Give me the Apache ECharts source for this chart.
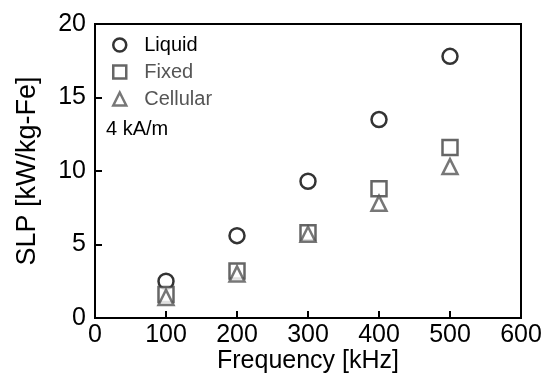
<!DOCTYPE html>
<html><head><meta charset="utf-8">
<script src="https://cdn.jsdelivr.net/npm/echarts@6/dist/echarts.min.js"></script>
<style>html,body{margin:0;padding:0;background:#fff}#c{width:544px;height:374px}</style>
</head><body><div id="c"></div>
<script>
const frequencies = [100, 200, 300, 400, 500];
const liquid = [2.5, 5.6, 9.3, 13.5, 17.8];
const fixed = [1.6, 3.2, 5.8, 8.8, 11.6];
const cellular = [1.4, 3.0, 5.7, 7.8, 10.3];
const xTicks = [0, 100, 200, 300, 400, 500, 600];
const yTicks = [0, 5, 10, 15, 20];

const font = 'Liberation Sans, Arial, sans-serif';
function pts(v){ return frequencies.map((f,i)=>[f, v[i]]); }
function ser(name, data, symbol, color, size){
  return {name, type:'scatter', data:pts(data), symbol, symbolSize:size,
    itemStyle:{color:'#fff', borderColor:color, borderWidth:2.5},
    emphasis:{disabled:true}, z: 3};
}
const chart = echarts.init(document.getElementById('c'), null, {renderer:'canvas'});
chart.setOption({
  animation:false,
  grid:{left:95, right:23, top:24, bottom:56, containLabel:false, outerBoundsMode:'none'},
  xAxis:{type:'value', min:xTicks[0], max:xTicks[xTicks.length-1], interval:100,
    name:'Frequency [kHz]', nameLocation:'middle', nameGap:31, nameMoveOverlap:false,
    nameTextStyle:{fontFamily:font, fontSize:25, color:'#000'},
    axisLine:{show:true, onZero:false, lineStyle:{color:'#000', width:2}},
    axisTick:{show:true, inside:true, length:7, lineStyle:{color:'#000', width:2}},
    axisLabel:{fontFamily:font, fontSize:25, color:'#000', margin:5},
    splitLine:{show:false}},
  yAxis:{type:'value', min:yTicks[0], max:yTicks[yTicks.length-1], interval:5,
    name:'SLP [kW/kg-Fe]', nameLocation:'middle', nameGap:54, nameRotate:90, nameMoveOverlap:false,
    nameTextStyle:{fontFamily:font, fontSize:27, color:'#000'},
    axisLine:{show:true, onZero:false, lineStyle:{color:'#000', width:2}},
    axisTick:{show:true, inside:true, length:7, lineStyle:{color:'#000', width:2}},
    axisLabel:{fontFamily:font, fontSize:25, color:'#000', margin:9},
    splitLine:{show:false}},
  legend:{left:112, top:35, orient:'vertical', itemGap:7, itemWidth:13, itemHeight:13, padding:0,
    textStyle:{fontFamily:font, fontSize:20, lineHeight:20, padding:[0,0,0,13]},
    itemStyle:{borderWidth:2.5},
    data:[{name:'Liquid', textStyle:{color:'#000'}},
          {name:'Fixed', textStyle:{color:'#555'}},
          {name:'Cellular', textStyle:{color:'#555'}}]},
  graphic:[
    {type:'rect', shape:{x:95, y:24, width:426, height:294}, style:{fill:'none', stroke:'#000', lineWidth:2}, silent:true, z:10},
    {type:'text', left:106, top:119, style:{text:'4 kA/m', font:'20px Liberation Sans, Arial, sans-serif', fill:'#000'}}
  ],
  series:[
    ser('Liquid', liquid, 'circle', '#000', 15),
    ser('Fixed', fixed, 'rect', '#404040', 15),
    ser('Cellular', cellular, 'triangle', '#555', 15)
  ]
});
</script></body></html>
